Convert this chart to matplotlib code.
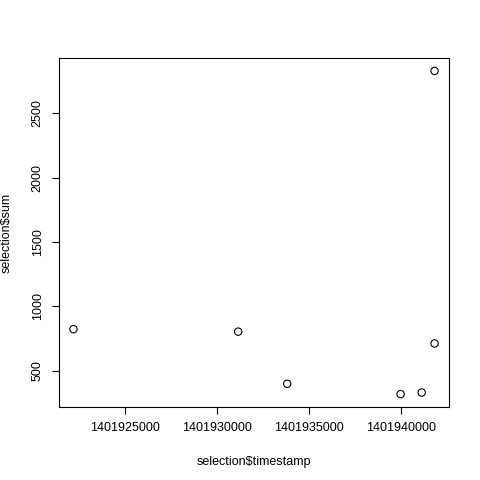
import matplotlib
matplotlib.use("Agg")
import matplotlib.pyplot as plt

timestamp = [1401922170, 1401931150, 1401933820, 1401940000, 1401941150, 1401941850, 1401941850]
total = [822, 803, 398, 318, 330, 2828, 711]
xticks = [1401925000, 1401930000, 1401935000, 1401940000]
yticks = [500, 1000, 1500, 2000, 2500]

plt.rcParams['font.family'] = ['Liberation Sans', 'DejaVu Sans']
fig = plt.figure(figsize=(4.8, 4.8), dpi=100)
ax = fig.add_axes([59/480, 73/480, 390/480, 349/480])
ax.scatter(timestamp, total, s=28, facecolors='none', edgecolors='black', linewidths=0.8)
xr = max(timestamp) - min(timestamp); yr = max(total) - min(total)
ax.set_xlim(min(timestamp) - 0.04*xr, max(timestamp) + 0.04*xr)
ax.set_ylim(min(total) - 0.04*yr, max(total) + 0.04*yr)
ax.set_xticks(xticks); ax.set_xticklabels([str(t) for t in xticks])
ax.set_yticks(yticks); ax.set_yticklabels([str(t) for t in yticks], rotation=90, va='center')
ax.tick_params(labelsize=9, length=5, width=0.8, pad=6)
for s in ax.spines.values():
    s.set_linewidth(0.8)
ax.set_xlabel('selection$timestamp', fontsize=9, labelpad=16)
ax.set_ylabel('selection$sum', fontsize=9, labelpad=14)
fig.savefig('out.png')
